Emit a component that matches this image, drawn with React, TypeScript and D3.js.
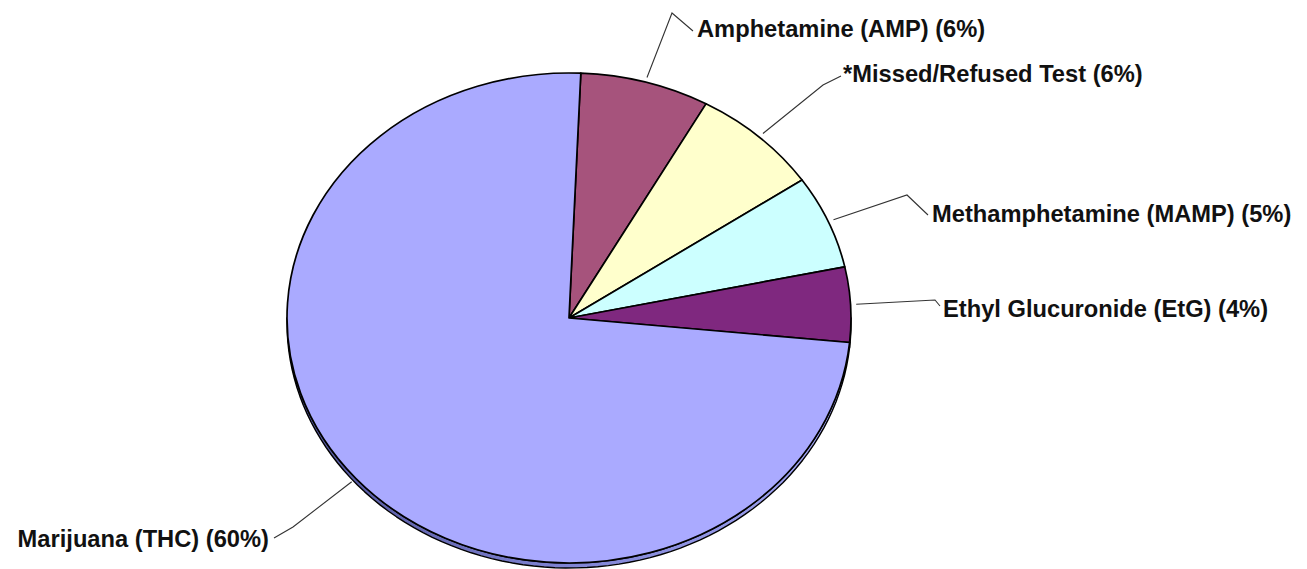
import React from 'react';
import * as d3 from 'd3';

const categories = [
  'Amphetamine (AMP)',
  '*Missed/Refused Test',
  'Methamphetamine (MAMP)',
  'Ethyl Glucuronide (EtG)',
  'Marijuana (THC)',
];
const percents = [6, 6, 5, 4, 60];
const sliceColors = ['#a6537c', '#ffffcc', '#ccffff', '#7f287f', '#aaaaff'];
const sideColors = ['#6e3352', '#b0b088', '#88b0b0', '#571a57', 'url(#thcSide)'];

// layout of label leader lines (elbow, text start) — annotation placement only
const labelLayout = [
  { elbow: [672, 13], end: [693, 31], text: [697, 37], anchor: 'start' },
  { elbow: [823, 85], end: [841, 76], text: [843, 82], anchor: 'start' },
  { elbow: [907, 195], end: [928, 215], text: [932, 222], anchor: 'start' },
  { elbow: [935, 300], end: [940, 306], text: [943, 317], anchor: 'start' },
  { elbow: [293, 527], end: [274, 538], text: [269, 547], anchor: 'end' },
];

const W = 1307;
const H = 569;
const cx = 569;
const cy = 318;
const rx = 282;
const ry = 245;
const depth = 5;
const startAngle = (2.4 * Math.PI) / 180;

export default function App() {
  const pie = d3
    .pie<number>()
    .sort(null)
    .value((d) => d)
    .startAngle(startAngle)
    .endAngle(startAngle + 2 * Math.PI);
  const arcs = pie(percents);
  const arcGen = d3.arc<d3.PieArcDatum<number>>().innerRadius(0).outerRadius(rx);
  const sy = ry / rx;

  const pt = (a: number, k = 1, dy = 0): [number, number] => [
    cx + rx * k * Math.sin(a),
    cy - ry * k * Math.cos(a) + dy,
  ];

  const sidePath = (a0: number, a1: number) => {
    const lo = Math.max(a0, Math.PI / 2);
    const hi = Math.min(a1, (3 * Math.PI) / 2);
    if (hi <= lo) return null;
    const n = 80;
    const top = d3.range(n + 1).map((i) => pt(lo + ((hi - lo) * i) / n));
    const bot = d3
      .range(n + 1)
      .map((i) => pt(hi - ((hi - lo) * i) / n, 1, depth));
    return d3.line()([...top, ...bot]) + 'Z';
  };

  return (
    <svg width={W} height={H} style={{ display: 'block', position: 'absolute', left: 0, top: 0 }}>
      <defs>
        <linearGradient id="thcSide" x1="0" x2="1" y1="0" y2="0">
          <stop offset="0%" stopColor="#4e5196" />
          <stop offset="50%" stopColor="#8084d4" />
          <stop offset="100%" stopColor="#a2a6f4" />
        </linearGradient>
      </defs>
      <rect x={0} y={0} width={W} height={H} fill="#ffffff" />
      {/* sides */}
      {arcs.map((a, i) => {
        const p = sidePath(a.startAngle, a.endAngle);
        return p ? (
          <path key={'s' + i} d={p} fill={sideColors[i]} stroke="#000" strokeWidth={1.4} strokeLinejoin="round" />
        ) : null;
      })}
      {/* top faces */}
      <g transform={`translate(${cx},${cy}) scale(1,${sy})`}>
        {arcs.map((a, i) => (
          <path
            key={'f' + i}
            d={arcGen(a) || ''}
            fill={sliceColors[i]}
            stroke="#000"
            strokeWidth={1.7}
            strokeLinejoin="round"
            vectorEffect="non-scaling-stroke"
          />
        ))}
      </g>
      {/* labels */}
      {arcs.map((a, i) => {
        const mid = (a.startAngle + a.endAngle) / 2;
        const p0 = pt(mid, 1.02);
        const L = labelLayout[i];
        const line = d3.line()([p0, L.elbow as [number, number], L.end as [number, number]]);
        return (
          <g key={'l' + i}>
            <path d={line || ''} fill="none" stroke="#333" strokeWidth={1.1} />
            <text
              x={L.text[0]}
              y={L.text[1]}
              textAnchor={L.anchor as any}
              fontFamily="'Liberation Sans', Arial, sans-serif"
              fontWeight="bold"
              fontSize={23.7}
              fill="#111"
            >
              {`${categories[i]} (${percents[i]}%)`}
            </text>
          </g>
        );
      })}
    </svg>
  );
}
